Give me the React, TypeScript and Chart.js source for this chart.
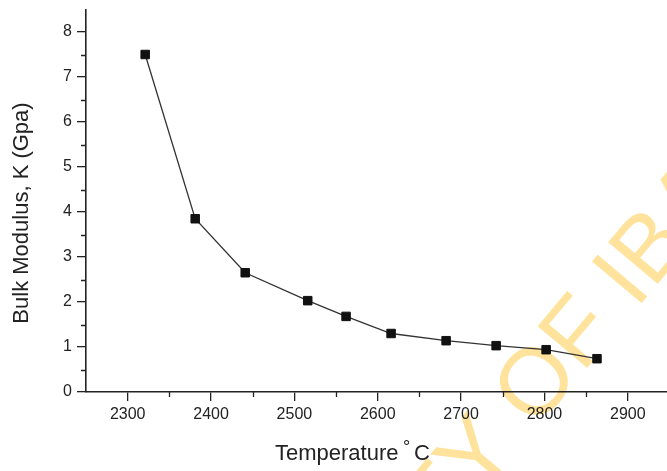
import React, { useEffect, useRef } from "react";
import { Chart, registerables } from "chart.js";
Chart.register(...registerables);

const temperatures = [2321, 2381, 2441, 2516, 2562, 2616, 2682, 2742, 2802, 2863];
const bulkModulus = [7.5, 3.85, 2.65, 2.03, 1.68, 1.3, 1.14, 1.03, 0.94, 0.74];
const xTickValues = [2300, 2400, 2500, 2600, 2700, 2800, 2900];
const yTickValues = [0, 1, 2, 3, 4, 5, 6, 7, 8];
const xMinorTicks = [2350, 2450, 2550, 2650, 2750, 2850];
const yMinorTicks = [0.5, 1.5, 2.5, 3.5, 4.5, 5.5, 6.5, 7.5];
const yAxisTitle = "Bulk Modulus, K (Gpa)";
const xAxisTitle = "Temperature";
const xAxisUnit = "C";
const watermark = "UNIVERSITY OF IBADAN";

const FONT = '"Liberation Sans", Arial, Helvetica, sans-serif';
const INK = "#222";

export default function App() {
  const ref = useRef<HTMLCanvasElement>(null);
  useEffect(() => {
    const canvas = ref.current;
    if (!canvas) return;
    const extras = {
      id: "extras",
      beforeDraw(chart: any) {
        const c = chart.ctx as CanvasRenderingContext2D;
        c.save();
        c.fillStyle = "#fff";
        c.fillRect(0, 0, chart.width, chart.height);
        // watermark (under the chart)
        c.font = `94px ${FONT}`;
        c.fillStyle = "#FFE39C";
        c.textAlign = "left";
        c.textBaseline = "alphabetic";
        const prefixW = c.measureText("UNIVERSITY ").width;
        const oW = c.measureText("O").width;
        c.translate(533, 380);
        c.rotate((-50 * Math.PI) / 180);
        c.fillText(watermark, -prefixW - oW / 2, (0.716 * 94) / 2);
        c.restore();
      },
      afterDraw(chart: any) {
        const c = chart.ctx as CanvasRenderingContext2D;
        const xs = chart.scales.x;
        const ys = chart.scales.y;
        const area = chart.chartArea;
        c.save();
        c.strokeStyle = INK;
        c.lineWidth = 1.3;
        c.beginPath();
        for (const v of xMinorTicks) {
          const px = Math.round(xs.getPixelForValue(v)) + 0.5;
          c.moveTo(px, area.bottom);
          c.lineTo(px, area.bottom + 5);
        }
        for (const v of yMinorTicks) {
          const py = Math.round(ys.getPixelForValue(v)) + 0.5;
          c.moveTo(area.left, py);
          c.lineTo(area.left - 5, py);
        }
        c.stroke();

        // axis titles
        c.fillStyle = INK;
        c.font = `22px ${FONT}`;
        c.textAlign = "center";
        c.textBaseline = "middle";
        c.save();
        c.translate(22, 213);
        c.rotate(-Math.PI / 2);
        c.fillText(yAxisTitle, 0, 0);
        c.restore();

        c.textAlign = "left";
        c.textBaseline = "alphabetic";
        c.font = `22px ${FONT}`;
        c.fillText(xAxisTitle, 275, 460);
        c.font = `18px ${FONT}`;
        c.fillText("\u00B0", 403, 453);
        c.font = `22px ${FONT}`;
        c.fillText(xAxisUnit, 414, 460);
        c.restore();
      },
    };

    const chart = new Chart(canvas, {
      type: "line",
      data: {
        datasets: [
          {
            data: temperatures.map((t, i) => ({ x: t, y: bulkModulus[i] })),
            borderColor: "#333",
            borderWidth: 1.3,
            pointStyle: "rect",
            pointRadius: 6,
            pointBackgroundColor: "#111",
            pointBorderColor: "#111",
            pointBorderWidth: 1,
            tension: 0,
          },
        ],
      },
      options: {
        animation: false,
        responsive: false,
        layout: { autoPadding: false, padding: { top: 9.5, right: 0, left: 0, bottom: 0 } },
        plugins: { legend: { display: false }, tooltip: { enabled: false } },
        scales: {
          x: {
            type: "linear",
            min: 2250,
            max: 2947,
            afterBuildTicks: (s: any) => {
              s.ticks = xTickValues.map((value) => ({ value }));
            },
            afterFit: (s: any) => {
              s.height = 79;
              s.paddingLeft = 0;
              s.paddingRight = 0;
            },
            grid: { drawOnChartArea: false, tickLength: 9, color: INK, lineWidth: 1.3 },
            border: { color: INK, width: 1.6 },
            ticks: {
              font: { size: 16, family: FONT },
              color: INK,
              padding: 4,
              maxRotation: 0,
              autoSkip: false,
              callback: (v: any) => String(v),
            },
          },
          y: {
            min: 0,
            max: 8.5,
            afterBuildTicks: (s: any) => {
              s.ticks = yTickValues.map((value) => ({ value }));
            },
            afterFit: (s: any) => {
              s.width = 86;
              s.paddingTop = 0;
              s.paddingBottom = 0;
            },
            grid: { drawOnChartArea: false, tickLength: 9, color: INK, lineWidth: 1.3 },
            border: { color: INK, width: 1.6 },
            ticks: {
              font: { size: 16, family: FONT },
              color: INK,
              padding: 5,
              autoSkip: false,
              callback: (v: any) => String(v),
            },
          },
        },
      },
      plugins: [extras],
    } as any);
    return () => chart.destroy();
  }, []);

  return (
    <div style={{ position: "fixed", left: 0, top: 0, width: 667, height: 471, background: "#fff" }}>
      <canvas ref={ref} width={667} height={471} style={{ display: "block" }} />
    </div>
  );
}
